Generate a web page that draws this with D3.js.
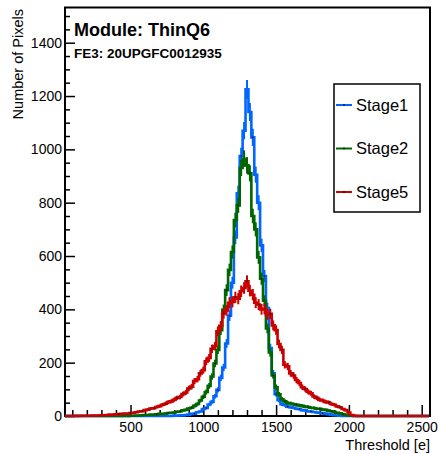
<!DOCTYPE html>
<html>
<head>
<meta charset="utf-8">
<script src="https://cdn.jsdelivr.net/npm/d3@7"></script>
<style>
  html, body { margin: 0; padding: 0; background: #fff; }
  svg { display: block; font-family: "Liberation Sans", Arial, Helvetica, sans-serif; }
</style>
</head>
<body>
<svg id="chart" width="440" height="454"></svg>
<script>
// ---- data ----
const binStart = 50;
const binWidth = 20;
const seriesNames = ["Stage1", "Stage2", "Stage5"];
const seriesColors = ["#0066ff", "#006600", "#cc0000"];
const xMajorTicks = [500, 1000, 1500, 2000, 2500];
const yMajorTicks = [0, 200, 400, 600, 800, 1000, 1200, 1400];

const stage1 = [
  0,0,0,0,0,0,0,0,0,0,
  0,0,0,0,0,0,0,0,0,0,
  0,0,0,0,0,0,0,0,0,0,
  0,0,0,0,0,0,0,
  2,1,3,2,4,5,8,9,14,17,
  26,30,43,53,74,98,143,182,272,376,
  500,670,835,975,1070,1225,1140,1045,905,800,
  640,525,405,255,160,82,59,44,41,35,
  33,31,27,26,22,21,18,17,15,13,
  12,10,9,7,5,3,2,1,0,0,
  0,0,0,0,0,0,0,0,0,0,
  0,0,0,0,0,0,0,0,0,0,
  0,0,0,0,0,0,0,0
];
const stage2 = [
  0,0,0,0,0,0,0,0,0,0,
  0,0,0,0,0,0,0,0,0,0,
  1,0,1,
  1,2,2,3,4,4,5,5,6,8,8,9,11,12,
  13,16,17,21,23,28,31,38,45,58,
  72,90,113,148,197,248,322,398,472,548,
  615,735,790,930,965,940,910,750,700,595,
  515,432,328,238,152,108,81,63,55,49,
  47,44,42,40,38,35,34,31,30,27,
  27,24,23,20,18,15,12,10,7,4,
  2,1,
  0,0,0,0,0,0,0,0,0,0,
  0,0,0,0,0,0,0,0,0,0,
  0,0,0,0,0,0
];
const stage5 = [
  0,0,0,1,0,1,1,1,
  1,2,2,2,3,3,4,5,5,6,
  7,8,9,9,11,12,14,17,18,22,
  24,28,29,34,37,42,46,52,55,61,
  68,71,82,88,103,110,131,138,160,172,
  205,218,252,262,318,338,385,396,425,428,
  445,440,468,480,505,470,455,425,418,400,
  402,380,383,340,322,270,248,192,186,160,
  152,135,124,108,101,91,85,73,68,61,
  58,53,51,45,42,36,33,26,22,13,
  4,1,
  0,0,0,0,0,0,0,0,0,0,
  0,0,0,0,0,0,0,0,0,0,
  0,0,0,0,0
];
const allSeries = [stage1, stage2, stage5];

// ---- layout ----
const svg = d3.select("#chart");
const L = 65, R = 430, T = 7.5, B = 416;
const x = d3.scaleLinear().domain([50, 2557]).range([L, R]);
const y = d3.scaleLinear().domain([0, 1532]).range([B, T]);

// frame
svg.append("rect").attr("x", L).attr("y", T).attr("width", R - L).attr("height", B - T)
  .attr("fill", "none").attr("stroke", "#000").attr("stroke-width", 2);

// x axis
const xMinor = d3.range(100, 2600, 100).filter(v => !xMajorTicks.includes(v));
const gx = svg.append("g").attr("transform", `translate(0,${B})`)
  .call(d3.axisBottom(x).tickValues(xMajorTicks).tickSizeInner(-11).tickSizeOuter(0).tickPadding(6).tickFormat(d3.format("d")));
const gxm = svg.append("g").attr("transform", `translate(0,${B})`)
  .call(d3.axisBottom(x).tickValues(xMinor).tickSizeInner(-6).tickSizeOuter(0).tickFormat(""));
// y axis
const yMinor = d3.range(50, 1550, 50).filter(v => !yMajorTicks.includes(v));
const gy = svg.append("g").attr("transform", `translate(${L},0)`)
  .call(d3.axisLeft(y).tickValues(yMajorTicks).tickSizeInner(-10).tickSizeOuter(0).tickPadding(3).tickFormat(d3.format("d")));
const gym = svg.append("g").attr("transform", `translate(${L},0)`)
  .call(d3.axisLeft(y).tickValues(yMinor).tickSizeInner(-5).tickSizeOuter(0).tickFormat(""));
[gx, gxm, gy, gym].forEach(g => {
  g.select(".domain").remove();
  g.selectAll(".tick line").attr("stroke", "#000").attr("stroke-width", 1.5);
  g.selectAll(".tick text").attr("fill", "#000").attr("font-size", 14)
    .attr("font-family", '"Liberation Sans", Arial, sans-serif');
});

// axis titles
svg.append("text").attr("x", R).attr("y", 449.5).attr("text-anchor", "end")
  .attr("font-size", 14.5).text("Threshold [e]");
svg.append("text").attr("transform", "translate(23,9) rotate(-90)").attr("text-anchor", "end")
  .attr("font-size", 14.5).text("Number of Pixels");

// histograms
const histG = svg.append("g");
allSeries.forEach((vals, si) => {
  if (vals.length !== 125) {
    svg.append("text").attr("x", 100).attr("y", 200 + si * 20).attr("fill", "magenta").text(seriesNames[si] + " len " + vals.length);
  }
  const pts = vals.map((v, i) => [binStart + i * binWidth, v]);
  pts.push([binStart + vals.length * binWidth, vals[vals.length - 1]]);
  const line = d3.line().x(d => x(d[0])).y(d => y(d[1])).curve(d3.curveStepAfter);
  const g = histG.append("g");
  g.selectAll("line.err").data(vals.map((v, i) => ({ c: binStart + (i + 0.5) * binWidth, v })).filter(d => d.v > 0))
    .join("line").attr("class", "err")
    .attr("x1", d => x(d.c)).attr("x2", d => x(d.c))
    .attr("y1", d => y(d.v - Math.sqrt(d.v))).attr("y2", d => y(d.v + Math.sqrt(d.v)))
    .attr("stroke", seriesColors[si]).attr("stroke-width", 2);
  g.append("path").attr("d", line(pts)).attr("fill", "none")
    .attr("stroke", seriesColors[si]).attr("stroke-width", 2.6);
  g.selectAll("circle").data(vals.map((v, i) => ({ c: binStart + (i + 0.5) * binWidth, v })).filter((d, i) => d.v > 5 && (i + si) % 4 === 0))
    .join("circle").attr("cx", d => x(d.c)).attr("cy", d => y(d.v)).attr("r", 0.8).attr("fill", "#111");
});

// title texts
svg.append("text").attr("x", 74).attr("y", 35.5).attr("font-size", 18).attr("font-weight", "bold").text("Module: ThinQ6");
svg.append("text").attr("x", 74).attr("y", 58).attr("font-size", 13.5).attr("font-weight", "bold").text("FE3: 20UPGFC0012935");

// legend
const lg = svg.append("g");
lg.append("rect").attr("x", 334).attr("y", 84).attr("width", 86).attr("height", 128)
  .attr("fill", "#fff").attr("stroke", "#000").attr("stroke-width", 1.5);
const legendY = [105, 148.5, 192];
seriesNames.forEach((name, i) => {
  lg.append("line").attr("x1", 336).attr("x2", 352).attr("y1", legendY[i]).attr("y2", legendY[i])
    .attr("stroke", seriesColors[i]).attr("stroke-width", 2);
  lg.append("circle").attr("cx", 344).attr("cy", legendY[i]).attr("r", 0.9).attr("fill", "#111");
  lg.append("text").attr("x", 356).attr("y", legendY[i] + 5.8).attr("font-size", 16.5).text(name);
});
</script>
</body>
</html>
